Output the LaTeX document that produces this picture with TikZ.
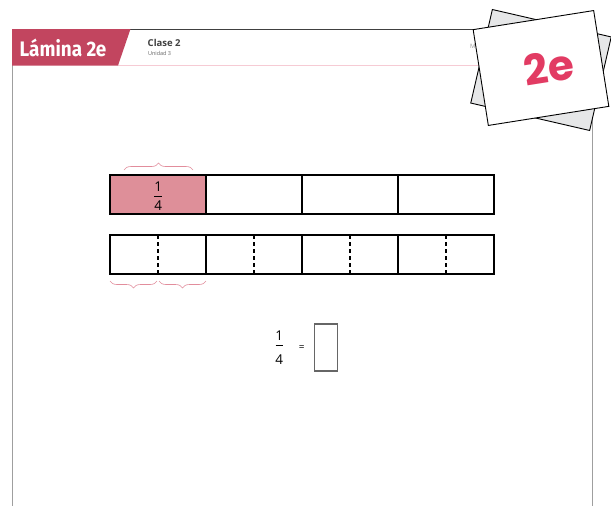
\documentclass[tikz,border=0pt]{standalone}
\usepackage{fontspec}
\setsansfont{Open Sans}
\newfontfamily\titulofont{Fira Sans}
\newfontfamily\rotulofont{Poppins}
\usetikzlibrary{positioning,decorations.pathreplacing}
\definecolor{lamina}{HTML}{C2455F}
\definecolor{cuartorosa}{HTML}{DE8F99}
\definecolor{llaverosa}{HTML}{E28D9C}
\definecolor{lineorosa}{HTML}{F6CBD4}
\definecolor{tarjetagris}{HTML}{E6E7E8}
\definecolor{rotulorojo}{HTML}{E23B63}
\tikzset{
  celda/.style={draw,line width=1.1pt,minimum width=96pt,minimum height=39pt,inner sep=0pt,outer sep=0pt},
  corte/.style={line width=1.3pt,dash pattern=on 4pt off 3pt},
  llave/.style={draw=llaverosa,line width=0.6pt,decorate,decoration={brace,amplitude=7pt}},
  cifra/.style={inner sep=0pt,font=\sffamily\fontsize{13.5}{13.5}\selectfont},
  tarjeta/.style={draw,line width=0.9pt}
}
\begin{document}
\begin{tikzpicture}[x=1pt,y=-1pt]
                \fill[white] (0,0) rectangle (611,506);
                \useasboundingbox (0,0) rectangle (611,506);
                % hoja
                \draw[gray!75,line width=1pt] (12.5,520) -- (12.5,29) -- (592,29) -- (592,520);
                \draw[darkgray,line width=0.8pt] (12.5,29) -- (480,29);
                \draw[lineorosa,line width=0.6pt] (118,65) -- (480,65);
                \fill[lamina] (12,29) -- (130.5,29) -- (118,65.5) -- (12,65.5) -- cycle;
                \node[anchor=base west,inner sep=0pt,white,xscale=0.9,font=\titulofont\bfseries\fontsize{21}{21}\selectfont] (titulo) at (19.5,56.7) {Lámina 2e};
                \node[anchor=base west,inner sep=0pt,black!75,font=\sffamily\bfseries\fontsize{9.5}{10}\selectfont] (clase) at (147.5,46.7) {Clase 2};
                \node[anchor=base west,inner sep=0pt,black!60,font=\sffamily\fontsize{5.5}{6}\selectfont] (unidad) at (147.8,56) {Unidad 3};
                \node[anchor=base west,inner sep=0pt,black!40,font=\sffamily\fontsize{6}{6}\selectfont] (materia) at (470,48) {M};
                % tarjetas
                \begin{scope}[shift={(541,70)},rotate=-13]
                    \draw[tarjeta,fill=tarjetagris] (-61,-48) rectangle (61,48);
                \end{scope}
                \begin{scope}[shift={(541,68)},rotate=9]
                    \draw[tarjeta,fill=white] (-61,-48.5) rectangle (61,48.5);
                \end{scope}
                \node[rotate=9,inner sep=0pt,rotulorojo,font=\rotulofont\bfseries\fontsize{42}{42}\selectfont] (rotulo) at (549,67) {2e};
                % barras
                \foreach \i/\x in {1/158,2/254,3/350,4/446} {
                    \node[celda] (c\i) at (\x,194.5) {};
                    \node[celda] (d\i) at (\x,254.5) {};
                    \draw[corte] (d\i.north) -- (d\i.south);
                }
                \fill[cuartorosa] (c1.north west) rectangle (c1.south east);
                \node[celda] at (c1) {};
                \node[cifra] (uno1) at (158.3,186.8) {1};
                \node[cifra] (cuatro1) at (158.3,205.9) {4};
                \draw[line width=0.8pt] ([xshift=-4pt]uno1.south |- 0,196.7) -- ([xshift=4pt]uno1.south |- 0,196.7);
                \draw[llave] ([xshift=14pt,yshift=5pt]c1.north west) -- ([xshift=-13pt,yshift=5pt]c1.north east);
                \draw[llave] ([xshift=-1pt,yshift=-7pt]d1.south) -- ([yshift=-7pt]d1.south west);
                \draw[llave] ([yshift=-7pt]d1.south east) -- ([xshift=1pt,yshift=-7pt]d1.south);
                % igualdad
                \node[cifra] (uno2) at (279.3,336) {1};
                \node[cifra] (cuatro2) at (279.3,360) {4};
                \draw[line width=0.8pt] (275.5,345.3) -- (283.1,345.3);
                \node[cifra,font=\sffamily\fontsize{10}{10}\selectfont] (igual) at (301.7,348.5) {=};
                \node[draw=black!60,line width=1.1pt,minimum width=23.5pt,minimum height=47pt,inner sep=0pt] (caja) at (326,347.5) {};
            \end{tikzpicture}
\end{document}
